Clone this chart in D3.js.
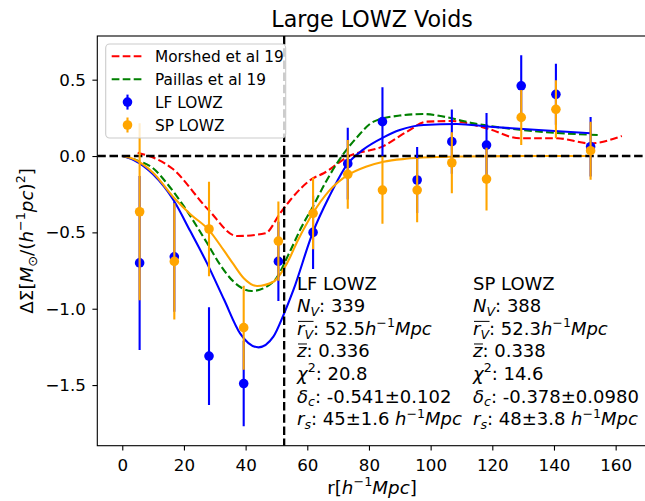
<!DOCTYPE html>
<html>
<head>
<meta charset="utf-8">
<script src="https://cdn.jsdelivr.net/npm/d3@7"></script>
<style>
  body { margin: 0; background: #fff; }
  svg { display: block; }
  text { font-family: "DejaVu Sans", sans-serif; fill: #000; }
</style>
</head>
<body>
<svg id="chart" width="645" height="501"></svg>
<script>
// ---- radial bins (h^-1 Mpc) ----
const rBins = [5.625, 16.875, 28.125, 39.375, 50.625, 61.875, 73.125, 84.375, 95.625, 106.875, 118.125, 129.375, 140.625, 151.875];

// ---- measured excess surface density profiles ----
const lfValues = [-0.70, -0.66, -1.31, -1.49, -0.69, -0.50, -0.05, 0.225, -0.157, 0.094, 0.072, 0.46, 0.404, 0.061];
const lfErrors = [0.57, 0.36, 0.32, 0.28, 0.26, 0.24, 0.235, 0.225, 0.216, 0.21, 0.21, 0.20, 0.20, 0.195];
const spValues = [-0.365, -0.69, -0.478, -1.124, -0.557, -0.375, -0.12, -0.223, -0.223, -0.044, -0.151, 0.253, 0.306, 0.035];
const spErrors = [0.58, 0.38, 0.31, 0.275, 0.26, 0.235, 0.225, 0.22, 0.21, 0.20, 0.205, 0.18, 0.19, 0.19];

// ---- best-fit profiles ----
const lfFitR = [0, 3.7, 10, 16.6, 22, 27.5, 33, 38.2, 44.2, 49, 52.3, 55.5, 61.8, 67, 73.2, 78, 84.7, 90, 97.7, 108.5, 119.3, 135, 151.9];
const lfFitV = [0, -0.026, -0.12, -0.288, -0.49, -0.703, -0.94, -1.161, -1.253, -1.183, -1.04, -0.877, -0.50, -0.27, -0.048, 0.04, 0.122, 0.17, 0.203, 0.21, 0.192, 0.17, 0.149];
const spFitR = [0, 3.7, 10, 16.9, 22, 28.1, 33, 36.1, 39.4, 43.7, 49, 53.4, 57, 61.8, 67, 73.2, 79, 84.7, 92, 100, 110, 130, 151.9];
const spFitV = [0, -0.02, -0.11, -0.277, -0.38, -0.485, -0.62, -0.71, -0.80, -0.851, -0.823, -0.703, -0.55, -0.375, -0.23, -0.124, -0.07, -0.037, -0.018, -0.008, -0.003, 0, 0];

// ---- literature profiles ----
const morshedR = [5, 16.1, 28, 37.2, 46.4, 51.2, 54.5, 61.8, 65.3, 73.2, 84.7, 92.3, 98.8, 106.9, 118.2, 129, 140.9, 151.7, 162];
const morshedV = [0.022, -0.08, -0.354, -0.524, -0.506, -0.375, -0.288, -0.146, -0.113, -0.004, 0.065, 0.159, 0.225, 0.229, 0.181, 0.116, 0.116, 0.083, 0.131];
const paillasR = [0, 5, 10, 14.5, 20, 27.5, 32, 36.1, 42, 49, 54.5, 58, 61.8, 66, 70.7, 76, 81.5, 90, 97.7, 105, 113.9, 130, 154.4];
const paillasV = [0, -0.03, -0.08, -0.18, -0.33, -0.57, -0.72, -0.823, -0.884, -0.823, -0.62, -0.47, -0.332, -0.17, -0.015, 0.12, 0.225, 0.265, 0.275, 0.255, 0.214, 0.17, 0.137];

// ---- sample statistics ----
const sampleNames = ["LF LOWZ", "SP LOWZ"];
const nVoids = [339, 388];
const meanRadius = [52.5, 52.3];
const meanZ = ["0.336", "0.338"];
const chi2 = ["20.8", "14.6"];
const deltaC = ["-0.541", "-0.378"];
const deltaCErr = ["0.102", "0.0980"];
const rScale = ["45", "48"];
const rScaleErr = ["1.6", "3.8"];

// ---- axis ticks / legend ----
const xTicks = [0, 20, 40, 60, 80, 100, 120, 140, 160];
const yTicks = [0.5, 0.0, -0.5, -1.0, -1.5];
const legendLabels = ["Morshed et al 19", "Paillas et al 19", "LF LOWZ", "SP LOWZ"];

// ---- layout ----
const svg = d3.select("#chart");
const plot = { left: 97.3, right: 646.8, top: 36, bottom: 445.7 };
const x = d3.scaleLinear().domain([-8.1, 170.1]).range([plot.left, plot.right]);
const y = d3.scaleLinear().domain([-1.897, 0.786]).range([plot.bottom, plot.top]);

const BLUE = "#0000ff", ORANGE = "#ffa500", RED = "#ff0000", GREEN = "#008000";
const LW = 2.1, DASH = "7.7,3.3";

svg.append("rect").attr("width", 645).attr("height", 501).attr("fill", "#fff");

svg.append("defs").append("clipPath").attr("id", "clip")
  .append("rect").attr("x", plot.left).attr("y", plot.top)
  .attr("width", plot.right - plot.left).attr("height", plot.bottom - plot.top);

const g = svg.append("g").attr("clip-path", "url(#clip)");

const line = d3.line().x(d => x(d[0])).y(d => y(d[1])).curve(d3.curveMonotoneX);
const pairs = (a, b) => a.map((v, i) => [v, b[i]]);

function curve(rs, vs, color, dashed) {
  g.append("path").datum(pairs(rs, vs))
    .attr("d", line).attr("fill", "none")
    .attr("stroke", color).attr("stroke-width", LW)
    .attr("stroke-dasharray", dashed ? DASH : null);
}

curve(morshedR, morshedV, RED, true);
curve(paillasR, paillasV, GREEN, true);
curve(lfFitR, lfFitV, BLUE, false);
curve(spFitR, spFitV, ORANGE, false);

// reference lines: zero level and mean void radius
const KDASH = "8.5,3.7";
g.append("line")
  .attr("x1", plot.left).attr("x2", plot.right)
  .attr("y1", y(0)).attr("y2", y(0))
  .attr("stroke", "#000").attr("stroke-width", 2.3).attr("stroke-dasharray", KDASH);
g.append("line")
  .attr("x1", x(meanRadius[0])).attr("x2", x(meanRadius[0]))
  .attr("y1", plot.top).attr("y2", plot.bottom)
  .attr("stroke", "#000").attr("stroke-width", 2.3).attr("stroke-dasharray", KDASH);

function errorPoints(vals, errs, color) {
  const grp = g.append("g");
  grp.selectAll("line").data(rBins).join("line")
    .attr("x1", d => x(d)).attr("x2", d => x(d))
    .attr("y1", (d, i) => y(vals[i] + errs[i]))
    .attr("y2", (d, i) => y(vals[i] - errs[i]))
    .attr("stroke", color).attr("stroke-width", LW);
  grp.selectAll("circle").data(rBins).join("circle")
    .attr("cx", d => x(d)).attr("cy", (d, i) => y(vals[i]))
    .attr("r", 4.8).attr("fill", color);
}
errorPoints(lfValues, lfErrors, BLUE);
errorPoints(spValues, spErrors, ORANGE);

// ---- axes ----
const tickFont = 16.7;
const xAxis = svg.append("g").attr("transform", `translate(0,${plot.bottom})`)
  .call(d3.axisBottom(x).tickValues(xTicks).tickSize(4.9).tickPadding(9).tickFormat(d3.format("d")));
const yAxis = svg.append("g").attr("transform", `translate(${plot.left},0)`)
  .call(d3.axisLeft(y).tickValues(yTicks).tickSize(4.9).tickPadding(6.5).tickFormat(d3.format(".1f")));
[xAxis, yAxis].forEach(a => {
  a.select(".domain").remove();
  a.selectAll("line").attr("stroke", "#000").attr("stroke-width", 1.1);
  a.selectAll("text").style("font-size", tickFont + "px").style("font-family", "DejaVu Sans");
});

// frame
svg.append("rect")
  .attr("x", plot.left).attr("y", plot.top)
  .attr("width", plot.right - plot.left).attr("height", plot.bottom - plot.top)
  .attr("fill", "none").attr("stroke", "#000").attr("stroke-width", 1.1);

// ---- rich text (mathtext-like) ----
function rich(textSel, segs, fs) {
  let shift = 0, idx = 0;
  const overl = [];
  segs.forEach(s => {
    const target = s.sup ? -0.42 * fs : s.sub ? 0.22 * fs : 0;
    textSel.append("tspan")
      .attr("dy", target - shift)
      .style("font-size", (s.sup || s.sub) ? (0.7 * fs) + "px" : fs + "px")
      .style("font-style", s.it ? "italic" : "normal")
      .text(s.t);
    if (s.ol) overl.push([idx, idx + s.t.length - 1]);
    idx += s.t.length;
    shift = target;
  });
  return overl;
}

function richLine(parent, xPos, yPos, segs, fs, anchor, transform) {
  const t = parent.append("text")
    .attr("x", xPos).attr("y", yPos)
    .attr("text-anchor", anchor || "start")
    .style("font-size", fs + "px");
  if (transform) t.attr("transform", transform);
  const ol = rich(t, segs, fs);
  if (ol.length) {
    const node = t.node();
    const a = ol[0][0], b = ol[ol.length - 1][1];
    const x1 = node.getStartPositionOfChar(a).x;
    const x2 = node.getEndPositionOfChar(b).x;
    parent.append("line")
      .attr("x1", x1 + 1).attr("x2", x2 + 0.5)
      .attr("y1", yPos - 0.74 * fs).attr("y2", yPos - 0.74 * fs)
      .attr("stroke", "#000").attr("stroke-width", 1);
  }
  return t;
}

// title
svg.append("text").attr("x", (plot.left + plot.right) / 2).attr("y", 27)
  .attr("text-anchor", "middle").style("font-size", "22.2px").text("Large LOWZ Voids");

// axis labels
const labFont = 18.3;
richLine(svg, (plot.left + plot.right) / 2, 494,
  [{ t: "r[" }, { t: "h", it: 1 }, { t: "−1", sup: 1 }, { t: "Mpc", it: 1 }, { t: "]" }], labFont, "middle");
richLine(svg, 0, 0,
  [{ t: "ΔΣ[" }, { t: "M", it: 1 }, { t: "⊙", sub: 1 }, { t: "/(" }, { t: "h", it: 1 }, { t: "−1", sup: 1 },
   { t: "pc", it: 1 }, { t: ")" }, { t: "2", sup: 1 }, { t: "]" }], labFont, "middle",
  `translate(33,${(plot.top + plot.bottom) / 2}) rotate(-90)`);

// ---- sample annotations ----
const annFont = 18;
const colX = [297, 473];
sampleNames.forEach((name, i) => {
  const lines = [
    [{ t: name }],
    [{ t: "N", it: 1 }, { t: "V", it: 1, sub: 1 }, { t: ": " + nVoids[i] }],
    [{ t: "r", it: 1, ol: 1 }, { t: "V", it: 1, sub: 1, ol: 1 }, { t: ": " + meanRadius[i] }, { t: "h", it: 1 }, { t: "−1", sup: 1 }, { t: "Mpc", it: 1 }],
    [{ t: "z", it: 1, ol: 1 }, { t: ": " + meanZ[i] }],
    [{ t: "χ", it: 1 }, { t: "2", sup: 1 }, { t: ": " + chi2[i] }],
    [{ t: "δ", it: 1 }, { t: "c", it: 1, sub: 1 }, { t: ": " + deltaC[i] + "±" + deltaCErr[i] }],
    [{ t: "r", it: 1 }, { t: "s", it: 1, sub: 1 }, { t: ": " + rScale[i] + "±" + rScaleErr[i] + " " }, { t: "h", it: 1 }, { t: "−1", sup: 1 }, { t: "Mpc", it: 1 }]
  ];
  lines.forEach((segs, k) => richLine(svg, colX[i], 289.5 + k * 22.6, segs, annFont));
});

// ---- legend ----
const legFont = 15.3;
const leg = svg.append("g");
leg.append("rect").attr("x", 105.7).attr("y", 44).attr("width", 180).attr("height", 94)
  .attr("rx", 4).attr("fill", "#fff").attr("fill-opacity", 0.8)
  .attr("stroke", "#cccccc").attr("stroke-width", 1.1);
const legStyle = [
  { color: RED, kind: "line" }, { color: GREEN, kind: "line" },
  { color: BLUE, kind: "point" }, { color: ORANGE, kind: "point" }
];
legendLabels.forEach((lab, i) => {
  const cy = 56.3 + i * 22.9;
  const st = legStyle[i];
  if (st.kind === "line") {
    leg.append("line").attr("x1", 111.7).attr("x2", 143.3).attr("y1", cy).attr("y2", cy)
      .attr("stroke", st.color).attr("stroke-width", LW).attr("stroke-dasharray", DASH);
  } else {
    leg.append("line").attr("x1", 127.5).attr("x2", 127.5).attr("y1", cy - 7.5).attr("y2", cy + 7.5)
      .attr("stroke", st.color).attr("stroke-width", LW);
    leg.append("circle").attr("cx", 127.5).attr("cy", cy).attr("r", 4.8).attr("fill", st.color);
  }
  leg.append("text").attr("x", 155).attr("y", cy + 5.8).style("font-size", legFont + "px").text(lab);
});
</script>
</body>
</html>
